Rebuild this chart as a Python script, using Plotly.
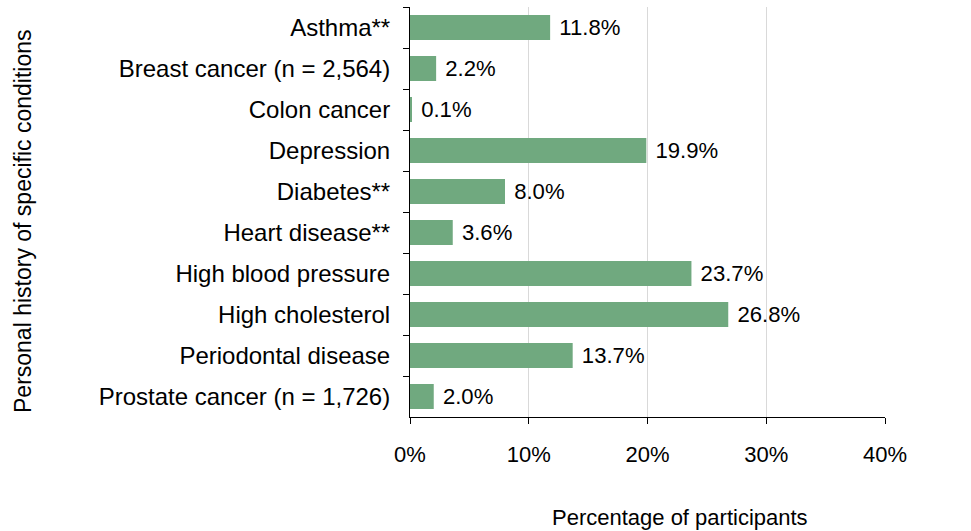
import plotly.graph_objects as go

conditions = [
    "Asthma**",
    "Breast cancer (n = 2,564)",
    "Colon cancer",
    "Depression",
    "Diabetes**",
    "Heart disease**",
    "High blood pressure",
    "High cholesterol",
    "Periodontal disease",
    "Prostate cancer (n = 1,726)",
]
percent = [11.8, 2.2, 0.1, 19.9, 8.0, 3.6, 23.7, 26.8, 13.7, 2.0]
x_ticks = [0, 10, 20, 30, 40]
x_tick_labels = ["0%", "10%", "20%", "30%", "40%"]

font = "Liberation Sans, Arial, sans-serif"

fig = go.Figure(
    go.Bar(
        x=percent,
        y=conditions,
        orientation="h",
        marker=dict(color="#70a97f", line=dict(width=0)),
        text=[f" {v:.1f}%" for v in percent],
        textposition="outside",
        textfont=dict(family=font, size=23, color="black"),
        cliponaxis=False,
    )
)

fig.update_layout(
    width=971,
    height=531,
    margin=dict(l=410, r=86, t=7, b=114, autoexpand=False),
    plot_bgcolor="white",
    paper_bgcolor="white",
    bargap=0.39,
    showlegend=False,
    font=dict(family=font, size=22, color="black"),
)

fig.update_xaxes(
    range=[0, 40],
    tickvals=x_ticks,
    ticktext=x_tick_labels,
    showgrid=True,
    gridcolor="#d9d9d9",
    gridwidth=1,
    showline=True,
    linecolor="black",
    linewidth=1,
    ticks="outside",
    ticklen=6,
    tickcolor="black",
    zeroline=False,
    ticklabelstandoff=12,
    automargin=False,
)

fig.update_yaxes(
    autorange="reversed",
    showline=True,
    linecolor="black",
    linewidth=1,
    ticks="outside",
    tickson="boundaries",
    ticklen=6,
    tickcolor="black",
    showgrid=False,
    ticklabelstandoff=14,
    tickfont=dict(size=24),
    automargin=False,
)

fig.add_annotation(
    text="Percentage of participants",
    xref="paper", yref="paper",
    x=(680 - 410) / 475, y=-(517 - 417) / 410,
    showarrow=False,
    xanchor="center", yanchor="middle",
)

fig.add_annotation(
    text="Personal history of specific conditions",
    xref="paper", yref="paper",
    x=-(410 - 23) / 475, y=(417 - 221) / 410,
    textangle=-90,
    showarrow=False,
    xanchor="center", yanchor="middle",
    font=dict(size=23),
)

# the page body has a default 8px margin; drop it so the chart sits at 0,0
fig.write_html(
    "out.html",
    config={"displayModeBar": False},
    post_script="document.body.style.margin='0';",
)
